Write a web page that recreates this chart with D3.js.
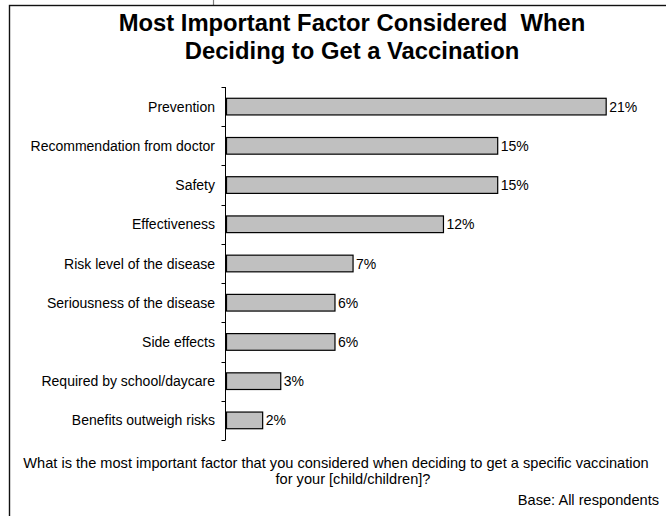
<!DOCTYPE html>
<html>
<head>
<meta charset="utf-8">
<script src="https://cdn.jsdelivr.net/npm/d3@7"></script>
<style>
  html, body { margin: 0; padding: 0; background: #fff; }
  svg { display: block; font-family: Arial, "Liberation Sans", sans-serif; }
</style>
</head>
<body>
<svg id="chart" width="666" height="516"></svg>
<script>
const titleLines = ["Most Important Factor Considered\u00a0 When", "Deciding to Get a Vaccination"];
const categories = [
  "Prevention",
  "Recommendation from doctor",
  "Safety",
  "Effectiveness",
  "Risk level of the disease",
  "Seriousness of the disease",
  "Side effects",
  "Required by school/daycare",
  "Benefits outweigh risks"
];
const values = [21, 15, 15, 12, 7, 6, 6, 3, 2];
const questionLines = [
  "What is the most important factor that you considered when deciding to get a specific vaccination",
  "for your [child/children]?"
];
const baseNote = "Base: All respondents";

const svg = d3.select("#chart");
const W = 666, H = 516;
const axisX = 225.5;

// frame
svg.append("line").attr("x1", 213.5).attr("x2", 213.5).attr("y1", 0).attr("y2", 5)
  .attr("stroke", "#808080").attr("stroke-width", 1.2);
svg.append("rect").attr("x", 9.5).attr("y", 5.5).attr("width", W + 20).attr("height", H + 20)
  .attr("fill", "none").attr("stroke", "#111").attr("stroke-width", 1.4);

// title
const title = svg.append("text").attr("text-anchor", "middle")
  .attr("font-weight", "bold").attr("font-size", 23.8).attr("fill", "#000");
titleLines.forEach((t, i) => {
  title.append("tspan").attr("x", 352).attr("y", 31 + i * 28).text(t);
});

// scales
const x = d3.scaleLinear().domain([0, 25]).range([226, 678]);
const yOuter = d3.scaleBand().domain(categories).range([87, 440]).padding(0);
const yBar = d3.scaleBand().domain(categories).range([87, 440])
  .paddingInner(0.575).paddingOuter(0.2875);

// axis with labels at band centers
const axis = svg.append("g").attr("transform", `translate(${axisX},0)`)
  .call(d3.axisLeft(yOuter).tickSize(0).tickPadding(10.5));
axis.select(".domain").remove();
axis.selectAll("text").attr("font-size", 14).attr("fill", "#000")
  .attr("font-family", 'Arial, "Liberation Sans", sans-serif')
  .attr("dy", "0.36em");

// axis line and boundary ticks
const [r0, r1] = yOuter.range();
svg.append("line").attr("x1", axisX).attr("x2", axisX).attr("y1", r0).attr("y2", r1)
  .attr("stroke", "#000").attr("stroke-width", 1);
const bounds = categories.map(c => yOuter(c)).concat([r1]);
svg.selectAll(".btick").data(bounds).enter().append("line")
  .attr("x1", axisX - 4).attr("x2", axisX)
  .attr("y1", d => Math.round(d) + 0.5).attr("y2", d => Math.round(d) + 0.5)
  .attr("stroke", "#000").attr("stroke-width", 1);

// bars
const data = categories.map((c, i) => ({ c, v: values[i] }));
svg.selectAll(".bar").data(data).enter().append("rect")
  .attr("x", x(0) + 0.5)
  .attr("y", d => yBar(d.c))
  .attr("width", d => x(d.v) - x(0))
  .attr("height", yBar.bandwidth())
  .attr("fill", "#c0c0c0")
  .attr("stroke", "#000").attr("stroke-width", 1.2);

// value labels
svg.selectAll(".val").data(data).enter().append("text")
  .attr("x", d => x(d.v) + 3.5)
  .attr("y", d => yBar(d.c) + yBar.bandwidth() / 2)
  .attr("dy", "0.36em")
  .attr("font-size", 14).attr("fill", "#000")
  .text(d => d.v + "%");

// question text
svg.append("text").attr("x", 336).attr("y", 468).attr("text-anchor", "middle")
  .attr("font-size", 14.6).attr("fill", "#000").text(questionLines[0]);
svg.append("text").attr("x", 353).attr("y", 484).attr("text-anchor", "middle")
  .attr("font-size", 14.6).attr("fill", "#000").text(questionLines[1]);
svg.append("text").attr("x", 659).attr("y", 505).attr("text-anchor", "end")
  .attr("font-size", 14.6).attr("fill", "#000").text(baseNote);
</script>
</body>
</html>
